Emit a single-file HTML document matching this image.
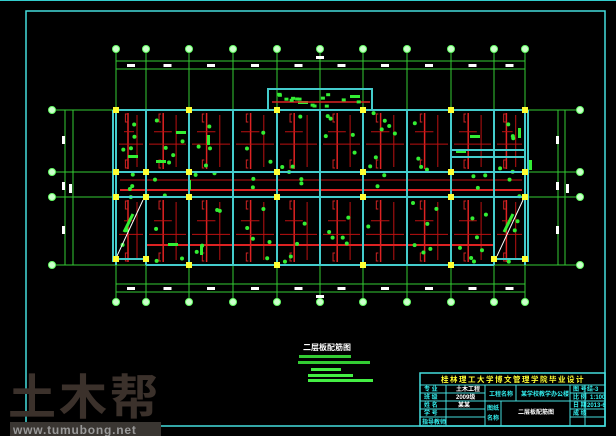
<!DOCTYPE html>
<html><head><meta charset="utf-8"><style>
html,body{margin:0;padding:0;background:#000;width:616px;height:436px;overflow:hidden}
svg{display:block}
text{font-family:"Liberation Sans","Noto Sans CJK SC",sans-serif;font-weight:bold}
</style></head><body>
<svg id="s" width="616" height="436" viewBox="0 0 616 436" xmlns="http://www.w3.org/2000/svg">
<rect width="616" height="436" fill="#000"/>
<line x1="0" y1="0.5" x2="616" y2="0.5" stroke="#3cc" stroke-width="1"/>
<rect x="26" y="11" width="579" height="415" fill="none" stroke="#4dd" stroke-width="1.5"/>
<g id="grid"></g>
<g id="deco"></g>
<!-- watermark -->
<text x="8" y="414" font-size="48" fill="#3b312b" font-weight="bold" letter-spacing="3">土木帮</text>
<rect x="10" y="422" width="151" height="14" fill="#3a3632"/>
<text x="13" y="434" font-size="12" fill="#9a9a9a" font-weight="normal" letter-spacing="0.8">www.tumubong.net</text>
<!-- caption -->
<text x="303" y="350" font-size="8" fill="#fff">二层板配筋图</text>
<rect x="299" y="355" width="52" height="3" fill="#3c3"/>
<rect x="298" y="361" width="72" height="3" fill="#3c3"/>
<rect x="311" y="368" width="30" height="3" fill="#4e4"/>
<rect x="308" y="374" width="45" height="3" fill="#4e4"/>
<rect x="308" y="379" width="65" height="3" fill="#4e4"/>
<!-- title block -->
<g stroke="#4dd" stroke-width="1" fill="none">
<rect x="420" y="373" width="185" height="53" stroke-width="1.5"/>
<line x1="420" y1="385" x2="605" y2="385"/>
<line x1="420" y1="393" x2="485" y2="393"/>
<line x1="420" y1="401" x2="605" y2="401"/>
<line x1="420" y1="409" x2="485" y2="409"/>
<line x1="420" y1="417" x2="485" y2="417"/>
<line x1="570" y1="393" x2="605" y2="393"/>
<line x1="570" y1="409" x2="605" y2="409"/>
<line x1="570" y1="417" x2="605" y2="417"/>
<line x1="446" y1="385" x2="446" y2="426"/>
<line x1="485" y1="385" x2="485" y2="426"/>
<line x1="516" y1="385" x2="516" y2="401"/>
<line x1="501" y1="401" x2="501" y2="426"/>
<line x1="570" y1="385" x2="570" y2="426"/>
<line x1="585" y1="385" x2="585" y2="426"/>
</g>
<text x="441" y="382" font-size="7.5" fill="#ff3" letter-spacing="1.5">桂林理工大学博文管理学院毕业设计</text>
<g font-size="6" fill="#3ee">
<text x="424" y="391">专 业</text><text x="424" y="399">班 级</text><text x="424" y="407">姓 名</text><text x="424" y="415">学 号</text><text x="422" y="424">指导教师</text>
<text x="489" y="396">工程名称</text><text x="521" y="396">某学校教学办公楼</text>
<text x="487" y="410">图纸</text><text x="487" y="420">名称</text>
<text x="573" y="391">图 号</text><text x="587" y="391">结-3</text>
<text x="573" y="399">比 例</text><text x="590" y="399">1:100</text>
<text x="573" y="407">日 期</text><text x="587" y="407">2013-6</text>
<text x="573" y="415">成 绩</text>
</g>
<g font-size="6" fill="#fff">
<text x="456" y="391">土木工程</text><text x="456" y="399">2009级</text><text x="458" y="407">某某</text>
<text x="518" y="414">二层板配筋图</text>
</g>
</svg>
<script>
(function(){
var NS="http://www.w3.org/2000/svg";
var g=document.getElementById('grid'),d=document.getElementById('deco');
function el(p,t,a){var e=document.createElementNS(NS,t);for(var k in a)e.setAttribute(k,a[k]);p.appendChild(e);return e;}
var cols=[116,146,189,233,277,320,363,407,451,494,525];
var rows=[110,172,197,265];
cols.forEach(function(x){el(g,'line',{x1:x,y1:53,x2:x,y2:110,stroke:'#3c3','stroke-width':1});
 el(g,'line',{x1:x,y1:110,x2:x,y2:265,stroke:'#888','stroke-width':1});
 el(g,'line',{x1:x,y1:265,x2:x,y2:300,stroke:'#3c3','stroke-width':1});
 el(g,'circle',{cx:x,cy:49,r:3.5,fill:'#cfc',stroke:'#6f6','stroke-width':1});
 el(g,'circle',{cx:x,cy:302,r:3.5,fill:'#cfc',stroke:'#6f6','stroke-width':1});});
rows.forEach(function(y){el(g,'line',{x1:56,y1:y,x2:576,y2:y,stroke:'#3c3','stroke-width':1});
 el(g,'circle',{cx:52,cy:y,r:3.5,fill:'#cfc',stroke:'#6f6'});
 el(g,'circle',{cx:580,cy:y,r:3.5,fill:'#cfc',stroke:'#6f6'});});
[61,69].forEach(function(y){el(g,'line',{x1:116,y1:y,x2:525,y2:y,stroke:'#3c3'});});
[284,292].forEach(function(y){el(g,'line',{x1:116,y1:y,x2:525,y2:y,stroke:'#3c3'});});
[65,73,558,565].forEach(function(x){el(g,'line',{x1:x,y1:110,x2:x,y2:265,stroke:'#3c3'});});
for(var i=0;i<cols.length-1;i++){var mx=(cols[i]+cols[i+1])/2;
 el(g,'rect',{x:mx-4,y:64,width:8,height:3,fill:'#fff'});el(g,'rect',{x:mx-4,y:287,width:8,height:3,fill:'#fff'});}
el(g,'rect',{x:316,y:56,width:8,height:3,fill:'#fff'});el(g,'rect',{x:316,y:295,width:8,height:3,fill:'#fff'});
[[62,140],[62,186],[62,230],[556,140],[556,186],[556,230]].forEach(function(p){el(g,'rect',{x:p[0],y:p[1]-4,width:3,height:8,fill:'#fff'});});
el(g,'rect',{x:69,y:184,width:3,height:9,fill:'#fff'});el(g,'rect',{x:566,y:184,width:3,height:9,fill:'#fff'});
var s=7;function r(){s=(s*9301+49297)%233280;return s/233280;}
for(var i=0;i<cols.length-1;i++){var x0=cols[i],x1=cols[i+1];
 [[110,172],[197,265]].forEach(function(b){
  var y0=b[0],y1=b[1];
  el(d,'line',{x1:x0+(x1-x0)*0.4,y1:y0+3,x2:x0+(x1-x0)*0.4,y2:y1-3,stroke:'#d22','stroke-width':1.5});
  el(d,'line',{x1:x0+(x1-x0)*0.7,y1:y0+5,x2:x0+(x1-x0)*0.7,y2:y1-5,stroke:'#b11','stroke-width':1});
  el(d,'line',{x1:x0+3,y1:y0+(y1-y0)*0.55,x2:x1-3,y2:y0+(y1-y0)*0.55,stroke:'#b11','stroke-width':1});
  el(d,'line',{x1:x0+8,y1:y0+(y1-y0)*0.35,x2:x0+(x1-x0)*0.6,y2:y0+(y1-y0)*0.35,stroke:'#b11','stroke-width':1});
  el(d,'path',{d:'M'+(x0+(x1-x0)*0.28+3)+' '+(y0+4)+'h-2v8h2',stroke:'#c22',fill:'none'});
  el(d,'path',{d:'M'+(x0+(x1-x0)*0.28+3)+' '+(y1-12)+'h-2v8h2',stroke:'#c22',fill:'none'});
 });}
el(d,'line',{x1:120,y1:190,x2:522,y2:190,stroke:'#d22','stroke-width':2});
el(d,'line',{x1:146,y1:245,x2:494,y2:245,stroke:'#d22','stroke-width':2});
el(d,'line',{x1:120,y1:180,x2:522,y2:180,stroke:'#b11','stroke-width':1});
for(var i=0;i<cols.length-1;i++){var x0=cols[i],x1=cols[i+1];
 for(var k=0;k<10;k++){el(d,'circle',{cx:x0+5+r()*(x1-x0-10),cy:113+r()*150,r:2,fill:'#3e3'});}}
[[176,131],[207,135],[298,101],[350,95],[518,128],[529,160],[470,135],[128,155],[156,160],[200,245],[168,243],[188,180],[456,150]].forEach(function(p){
 var v=r()>0.5;el(d,'rect',{x:p[0],y:p[1],width:v?3:10,height:v?10:3,fill:'#3e3'});});
el(d,'rect',{x:268,y:89,width:104,height:21,fill:'none',stroke:'#4cc','stroke-width':2});
el(d,'line',{x1:272,y1:102,x2:370,y2:102,stroke:'#d22','stroke-width':1.5});
for(var k=0;k<14;k++)el(d,'rect',{x:275+r()*90,y:92+r()*14,width:4,height:3,fill:'#3e3'});
var bc='#4cc';
function bl(x1,y1,x2,y2){el(d,'line',{x1:x1,y1:y1,x2:x2,y2:y2,stroke:bc,'stroke-width':2});}
bl(113,110,528,110);bl(116,172,525,172);bl(116,197,525,197);
bl(116,259,146,259);bl(146,265,494,265);bl(494,259,525,259);
bl(113,110,113,262);bl(528,110,528,262);
cols.forEach(function(x){bl(x,110,x,265);});
bl(451,150,525,150);bl(451,157,525,157);
el(d,'line',{x1:117,y1:256,x2:143,y2:200,stroke:'#fff'});
el(d,'line',{x1:497,y1:256,x2:523,y2:200,stroke:'#fff'});
el(d,'line',{x1:124,y1:232,x2:133,y2:214,stroke:'#3e3','stroke-width':3});
el(d,'line',{x1:504,y1:232,x2:513,y2:214,stroke:'#3e3','stroke-width':3});
function yc(x,y,w){el(d,'rect',{x:x-w/2,y:y-w/2,width:w,height:w,fill:'#ff3'});}
[[116,110],[189,110],[277,110],[363,110],[451,110],[525,110],
 [116,172],[146,172],[189,172],[277,172],[363,172],[451,172],[525,172],
 [116,197],[146,197],[189,197],[277,197],[363,197],[451,197],[525,197],
 [116,259],[146,259],[189,265],[277,265],[363,265],[451,265],[494,259],[525,259]].forEach(function(p){yc(p[0],p[1],6);});
})();
</script>
</body></html>
